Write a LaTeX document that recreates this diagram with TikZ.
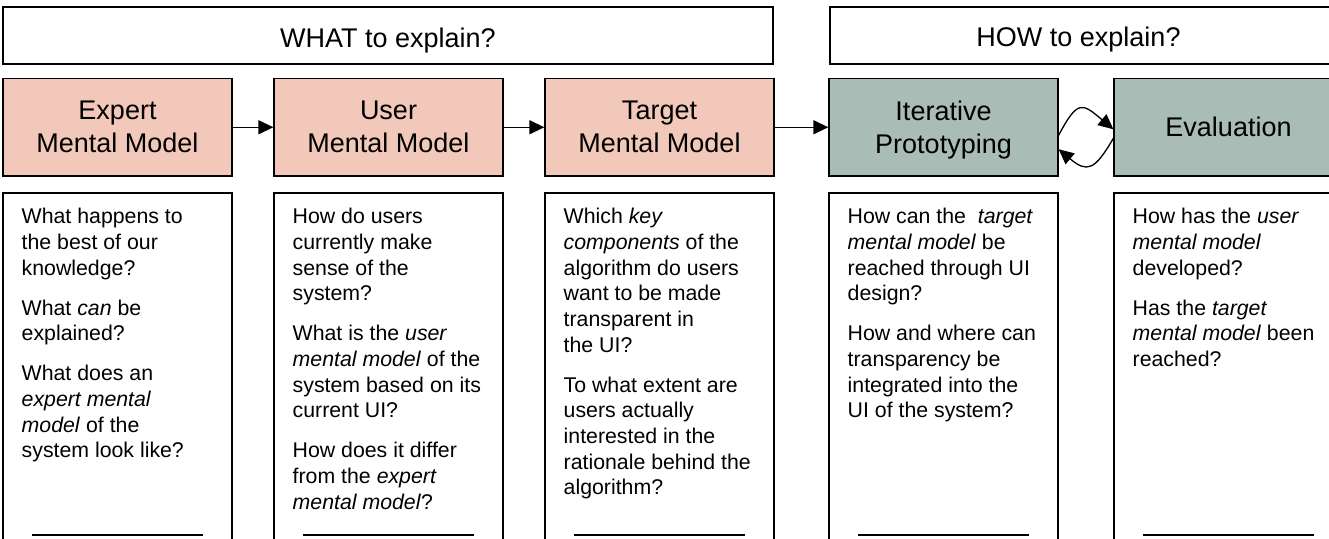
\documentclass[tikz,border=0pt]{standalone}
\usepackage{fontspec}
\setmainfont{Liberation Sans}
\usetikzlibrary{arrows.meta}
\definecolor{salmon}{RGB}{241,200,186}
\definecolor{sage}{RGB}{169,188,181}
\tikzset{
  titlebox/.style={draw=black, line width=1.3pt, inner sep=0pt, minimum height=57pt},
  titletext/.style={anchor=base, inner sep=0pt, font=\fontsize{27}{33}\selectfont},
  mbox/.style={draw=black, line width=1.3pt, inner sep=0pt, minimum width=229pt,
    minimum height=97.5pt, align=center, font=\fontsize{27}{33}\selectfont},
  qbox/.style={draw=black, line width=1.3pt, inner sep=0pt, minimum width=229pt,
    minimum height=427pt},
  qtext/.style={anchor=north west, align=left, inner sep=0pt,
    font=\fontsize{21.3}{25.7}\selectfont},
  flow/.style={line width=1.3pt, -{Triangle[length=15pt,width=14pt]}},
  uline/.style={line width=1.3pt},
}
\begin{document}
\begin{tikzpicture}[x=1pt,y=1pt]
\useasboundingbox (0,0) rectangle (1329,-538);

% header boxes
\node[titlebox, minimum width=770pt] (what) at (388,-35.5) {};
\node[titletext] (whattxt) at (388,-47) {WHAT to explain?};
\node[titlebox, minimum width=512pt] (how) at (1086,-35.5) {};
\node[titletext] (howtxt) at (1078.5,-46.5) {HOW to explain?};

% model boxes
\node[mbox, fill=salmon] (expert) at (117.5,-127.25) {Expert\\Mental Model};
\node[mbox, fill=salmon] (user) at (388.5,-127.25) {User\\Mental Model};
\node[mbox, fill=salmon] (target) at (659.5,-127.25) {Target\\Mental Model};
\node[mbox, fill=sage] (iter) at (943.5,-127.25) {Iterative\\\raisebox{0pt}[\height][0pt]{Prototyping}};
\node[mbox, fill=sage] (eval) at (1228.5,-127.25) {Evaluation};

% connectors
\draw[flow] (expert.east) -- (user.west);
\draw[flow] (user.east) -- (target.west);
\draw[flow] (target.east) -- (iter.west);
\draw[flow] ([yshift=-8pt]iter.east) to[out=62,in=140,looseness=1.9] ([yshift=-2pt]eval.west);
\draw[flow] ([yshift=-11pt]eval.west) to[out=240,in=-40,looseness=1.7] ([yshift=-22pt]iter.east);

% question boxes
\node[qbox] (q1) at (117.5,-406.5) {};
\node[qbox] (q2) at (388.5,-406.5) {};
\node[qbox] (q3) at (659.5,-406.5) {};
\node[qbox] (q4) at (943.5,-406.5) {};
\node[qbox] (q5) at (1228.5,-406.5) {};

\node[qtext] (t1) at (21.5,-208) {What happens to\\the best of our\\knowledge?\\[14.3pt]
What \textit{can} be\\explained?\\[14.3pt]
What does an\\\textit{expert mental}\\\textit{model} of the\\system look like?};

\node[qtext] (t2) at (292.5,-208) {How do users\\currently make\\sense of the\\system?\\[14.3pt]
What is the \textit{user}\\\textit{mental model} of the\\system based on its\\current UI?\\[14.3pt]
How does it differ\\from the \textit{expert}\\\textit{mental model}?};

\node[qtext] (t3) at (563.5,-208) {Which \textit{key}\\\textit{components} of the\\algorithm do users\\want to be made\\transparent in\\the UI?\\[14.3pt]
To what extent are\\users actually\\interested in the\\rationale behind the\\algorithm?};

\node[qtext] (t4) at (847.5,-208) {How can the\ \ \textit{target}\\\textit{mental model} be\\reached through UI\\design?\\[14.3pt]
How and where can\\transparency be\\integrated into the\\UI of the system?};

\node[qtext] (t5) at (1132.5,-208) {How has the \textit{user}\\\textit{mental model}\\developed?\\[14.3pt]
Has the \textit{target}\\\textit{mental model} been\\reached?};

% underlines
\draw[uline] (32,-535) -- (203,-535);
\draw[uline] (303,-535) -- (474,-535);
\draw[uline] (574,-535) -- (745,-535);
\draw[uline] (858,-535) -- (1029,-535);
\draw[uline] (1143,-535) -- (1314,-535);
\end{tikzpicture}
\end{document}
